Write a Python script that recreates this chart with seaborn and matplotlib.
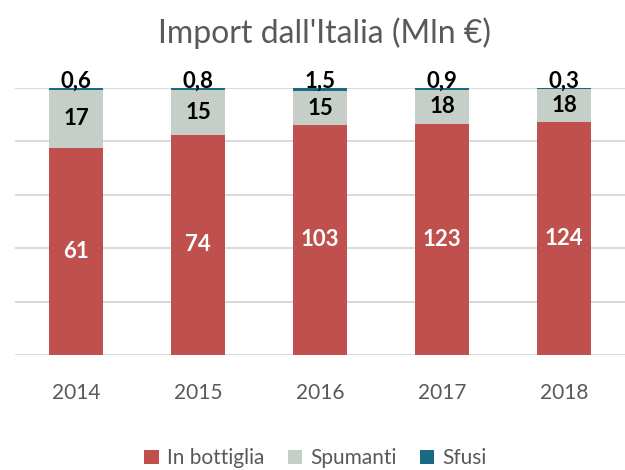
import numpy as np
import pandas as pd
import matplotlib.pyplot as plt
import seaborn as sns
from matplotlib.patches import Patch

# values (Mln EUR)
years = ["2014", "2015", "2016", "2017", "2018"]
bottiglia = [61, 74, 103, 123, 124]
spumanti = [17, 15, 15, 18, 18]
sfusi = [0.6, 0.8, 1.5, 0.9, 0.3]

series_names = ["In bottiglia", "Spumanti", "Sfusi"]
colors = ["#C0504D", "#C6CFC7", "#1B6A84"]

sns.set_theme(style="white")
plt.rcParams['font.family'] = ['Lato', 'DejaVu Sans']

df = pd.DataFrame({"year": years, "In bottiglia": bottiglia,
                   "Spumanti": spumanti, "Sfusi": sfusi})
total = df[series_names].sum(axis=1)
pct = df[series_names].div(total, axis=0) * 100
cum = pct.cumsum(axis=1)

fig = plt.figure(figsize=(6.25, 4.7), dpi=100)
ax = fig.add_axes([15 / 625, 1 - 355 / 470, 610 / 625, (355 - 88) / 470])

# draw from top of stack down so lower layers cover upper ones
for name, color in zip(series_names[::-1], colors[::-1]):
    sns.barplot(x=df["year"], y=cum[name], color=color, width=0.44,
                saturation=1, ax=ax, zorder=3, linewidth=0)

ax.set_ylim(0, 100)
ax.set_xlim(-0.5, 4.5)
ax.set_yticks(np.arange(0, 101, 20))
ax.set_yticklabels([])
ax.grid(axis="y", color="#D9D9D9", linewidth=1.4, zorder=0)
ax.tick_params(axis="y", length=0)
ax.tick_params(axis="x", length=0, pad=20, labelsize=15, labelcolor="#595959")
ax.set_xlabel("")
ax.set_ylabel("")
for s in ax.spines.values():
    s.set_visible(False)

for i in range(len(years)):
    ax.text(i, pct["In bottiglia"][i] / 2, str(bottiglia[i]), ha="center",
            va="center", color="white", fontsize=16, fontweight="bold", zorder=5)
    ax.text(i, cum["In bottiglia"][i] + pct["Spumanti"][i] / 2, str(spumanti[i]),
            ha="center", va="center", color="black", fontsize=16,
            fontweight="bold", zorder=5)
    ax.text(i, 102.5, f"{sfusi[i]}".replace(".", ","), ha="center", va="center",
            color="black", fontsize=16, fontweight="bold", zorder=5)

fig.text(0.52, 0.93, "Import dall'Italia (Mln €)", ha="center", va="center",
         fontsize=23, color="#595959")

handles = [Patch(facecolor=c, edgecolor="none") for c in colors]
fig.legend(handles, series_names, loc="center", bbox_to_anchor=(0.505, 0.025),
           ncol=3, frameon=False, fontsize=15, handlelength=0.7,
           handleheight=0.7, handletextpad=0.4, columnspacing=1.1,
           labelcolor="#595959")

fig.savefig("out.png", dpi=100)
